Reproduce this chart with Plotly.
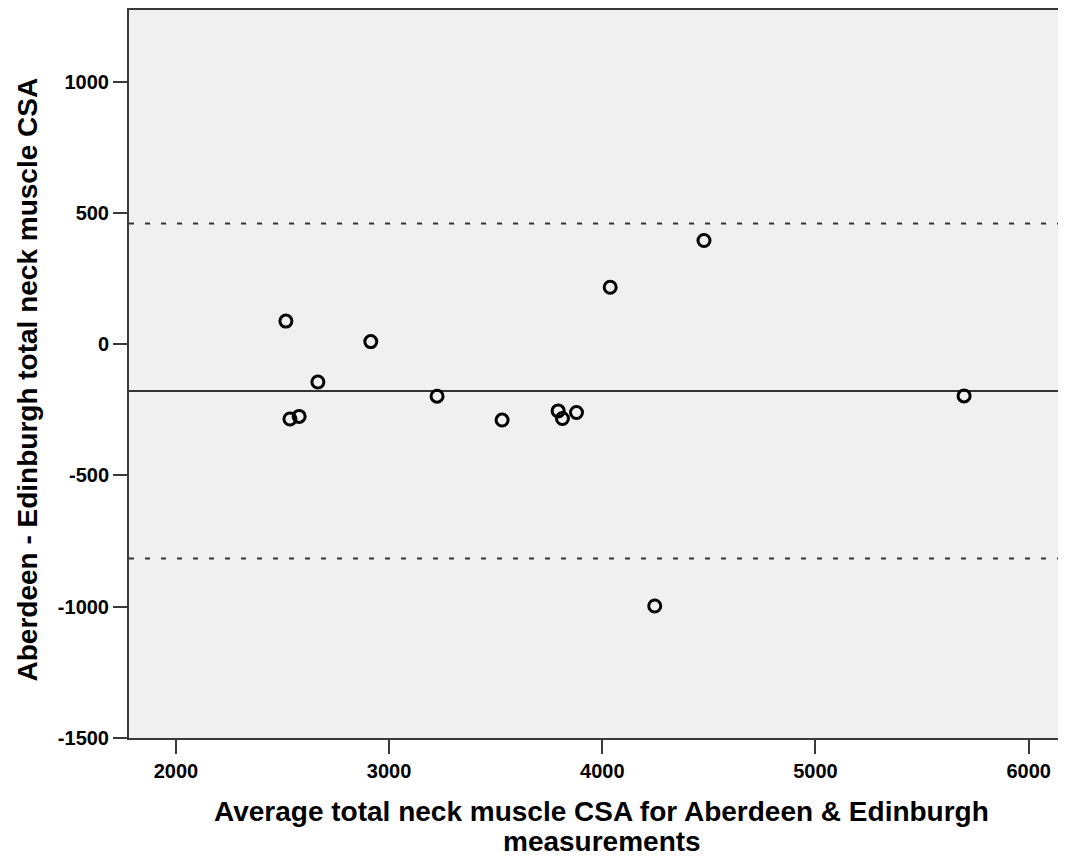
import plotly.graph_objects as go

# Bland-Altman: average vs difference (Aberdeen - Edinburgh)
avg_csa = [2516, 2914, 2666, 2535, 2578, 3225, 3530, 3793, 3813, 3879, 4037, 4477, 4246, 5697]
diff_csa = [88, 10, -144, -285, -275, -198, -289, -254, -283, -260, 217, 395, -997, -197]

mean_diff = -178
upper_loa = 460
lower_loa = -816

x_ticks = [2000, 3000, 4000, 5000, 6000]
y_ticks = [-1500, -1000, -500, 0, 500, 1000]
y_ticktext = ["-1500", "-1000", "-500", "0", "500", "1000"]

x_title = ["Average total neck muscle CSA for Aberdeen & Edinburgh", "measurements"]
y_title = "Aberdeen - Edinburgh total neck muscle CSA"

fig = go.Figure()

fig.add_trace(go.Scatter(
    x=avg_csa, y=diff_csa, mode="markers",
    marker=dict(symbol="circle-open", size=12, color="black",
                line=dict(width=3, color="black")),
    showlegend=False, cliponaxis=False))

for val, dash in [(mean_diff, "solid"), (upper_loa, "5px,11px"), (lower_loa, "5px,11px")]:
    fig.add_shape(type="line", xref="paper", x0=0, x1=1, yref="y", y0=val, y1=val,
                  line=dict(color="#333333", width=2, dash=dash), layer="below")

tick_font = dict(family="Liberation Sans, Arial", size=20, color="black", weight="bold")
title_font = dict(family="Liberation Sans, Arial", size=28, color="black", weight="bold")

# axis titles as annotations (tighter line spacing than the axis title allows)
fig.add_annotation(text=x_title[0], xref="paper", yref="paper", x=0.5, y=0,
                   xshift=4, yshift=-91, showarrow=False, font=title_font)
fig.add_annotation(text=x_title[1], xref="paper", yref="paper", x=0.5, y=0,
                   xshift=4, yshift=-121, showarrow=False, font=title_font)
fig.add_annotation(text=y_title, xref="paper", yref="paper", x=0, y=0.5,
                   xshift=-120, yshift=-6, textangle=-90, showarrow=False, font=title_font)

fig.update_layout(
    width=1058, height=859,
    margin=dict(l=121, r=0, t=0, b=129),
    paper_bgcolor="white", plot_bgcolor="#f0f0f0",
    font=dict(family="Liberation Sans, Arial", color="black"),
)

fig.update_xaxes(
    range=[1780, 6175], tickvals=x_ticks, showgrid=False, zeroline=False,
    showline=True, mirror=True, linecolor="#3a3a3a", linewidth=2,
    ticks="outside", ticklen=14, tickwidth=2, tickcolor="#3a3a3a",
    tickfont=tick_font,
)
fig.update_yaxes(
    range=[-1500, 1273], tickvals=y_ticks, ticktext=y_ticktext, showgrid=False, zeroline=False,
    showline=True, mirror=False, linecolor="#3a3a3a", linewidth=2,
    ticks="outside", ticklen=14, tickwidth=2, tickcolor="#3a3a3a",
    tickfont=tick_font,
)

fig.write_html("out.html")
